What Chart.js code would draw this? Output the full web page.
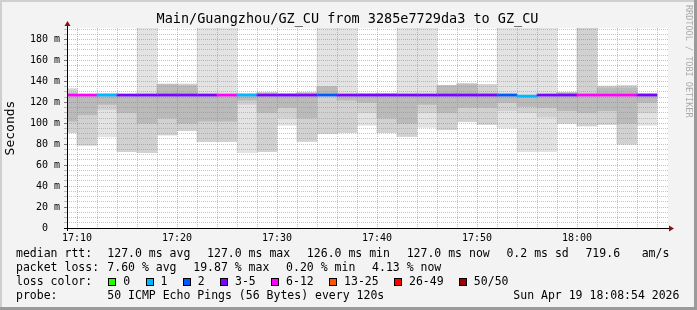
<!DOCTYPE html>
<html>
<head>
<meta charset="utf-8">
<script src="https://cdn.jsdelivr.net/npm/chart.js@4.4.0/dist/chart.umd.min.js"></script>
<style>
  html, body { margin: 0; padding: 0; background: #f3f3f3; }
</style>
</head>
<body>
<canvas id="smokeChart" width="697" height="310"></canvas>
<script>
// one slot = one 120 s probe round, x = minutes after 17:00 (slot centre)
const slotMid = [9, 11, 13, 15, 17, 19, 21, 23, 25, 27, 29, 31, 33, 35, 37, 39, 41, 43, 45, 47, 49, 51, 53, 55, 57, 59, 61, 63, 65, 67];

// median rtt in ms
const medianRtt = [127, 127, 127, 127, 127, 127, 127, 127, 127, 127, 127, 127, 127, 127, 127, 127, 127, 127, 127, 127, 127, 127, 127, 126, 127, 127, 127, 127, 127, 127];

// loss bucket of each slot (colours the median)
const lossBand = ["6-12", "6-12", "1", "3-5", "3-5", "3-5", "3-5", "3-5", "6-12", "1", "3-5", "3-5", "3-5", "2", "3-5", "3-5", "3-5", "3-5", "3-5", "3-5", "3-5", "3-5", "2", "1", "3-5", "3-5", "6-12", "6-12", "6-12", "3-5"];

// smoke: full spread of the pings (ms)
const pingMin = [91, 79, 87, 73, 72, 89, 93, 82.5, 82.5, 72, 73, 98, 82.7, 90, 91, 98, 91, 87.5, 96, 94, 101.5, 99, 95.4, 73, 73, 100, 97.6, 99, 80, 98];
const pingMax = [133, 127.5, 128.5, 127.5, 200, 137.5, 137.5, 200, 200, 128.5, 129.5, 128.5, 129.5, 200, 200, 128.5, 128.5, 200, 200, 136, 138, 137, 200, 200, 200, 129.5, 200, 135.5, 136, 128.5];

// denser part of the smoke
const bodyLo = [91, 79, 113, 73, 72, 89, 93, 82.5, 82.5, 118, 73, 105, 82.7, 90, 91, 110, 91, 87.5, 110, 94, 101.5, 99, 112, 110, 106, 100, 97.6, 99, 80, 110];
const bodyHi = [133, 127, 128, 127, 127, 137.5, 137.5, 127, 127, 128, 129.5, 128, 129.5, 135, 127, 128, 128, 127, 127, 136, 138, 137, 128, 126, 127, 129.5, 200, 135.5, 136, 128];

// core around the median
const coreLo = [102, 108, 118, 110, 100, 105, 100, 102, 102, 122, 110, 115, 105, 127, 122, 120, 105, 100, 118, 110, 115, 115, 120, 116, 115, 112, 110, 112, 100, 120];
const coreHi = [128, 127, 127, 127, 127, 137, 136, 127, 127, 127, 128, 127, 128, 135, 127, 127, 128, 127, 127, 136, 137, 128, 127, 126, 127, 129, 128, 134, 134, 127];

const lossLabels = ["0", "1", "2", "3-5", "6-12", "13-25", "26-49", "50/50"];
const lossColors = ["#26ff00", "#00b8ff", "#0059ff", "#7e00ff", "#ff00ff", "#ff5500", "#ff0000", "#a10000"];

const titleText = "Main/Guangzhou/GZ_CU from 3285e7729da3 to GZ_CU";
const rttItems = ["127.0 ms avg", "127.0 ms max", "126.0 ms min", "127.0 ms now", "0.2 ms sd", "719.6"];
const lossItems = ["7.60 % avg", "19.87 % max", "0.20 % min", "4.13 % now"];
const probeText = "50 ICMP Echo Pings (56 Bytes) every 120s";
const stampText = "Sun Apr 19 18:08:54 2026";

const mono = "'DejaVu Sans Mono', monospace";
const minorGrid = "rgba(140,140,140,0.5)";
const majorGrid = "rgba(225,70,70,0.45)";

function range(lo, hi) {
  return slotMid.map((x, i) => ({ x: x, y: [lo[i], hi[i]] }));
}

function clockLabel(v) {
  const h = 17 + Math.floor(v / 60);
  const m = v % 60;
  return h + ":" + String(m).padStart(2, "0");
}

// rrdtool places legend items one after another with a fixed gap
function legendRow(ctx, items, x, y) {
  items.forEach(t => {
    ctx.fillText(t, x, y);
    x += ctx.measureText(t).width + 16.7;
  });
}

const rrdFrame = {
  id: "rrdFrame",
  beforeDraw(chart) {
    const { ctx, chartArea: a } = chart;
    ctx.save();
    ctx.fillStyle = "#f3f3f3";
    ctx.fillRect(0, 0, chart.width, chart.height);
    ctx.fillStyle = "#ffffff";
    ctx.fillRect(a.left, a.top, a.right - a.left, a.bottom - a.top);
    ctx.restore();
  },
  afterDraw(chart) {
    const { ctx, chartArea: a } = chart;
    ctx.save();

    // axes + arrows
    ctx.strokeStyle = "#000";
    ctx.lineWidth = 1;
    ctx.beginPath();
    ctx.moveTo(a.left - 3, a.bottom + 0.5);
    ctx.lineTo(a.right + 2, a.bottom + 0.5);
    ctx.moveTo(a.left + 0.5, a.bottom + 3);
    ctx.lineTo(a.left + 0.5, a.top - 3);
    ctx.stroke();
    ctx.fillStyle = "#8b1010";
    ctx.beginPath();
    ctx.moveTo(a.left + 0.5, a.top - 7);
    ctx.lineTo(a.left - 2.5, a.top - 2);
    ctx.lineTo(a.left + 3.5, a.top - 2);
    ctx.fill();
    ctx.beginPath();
    ctx.moveTo(a.right + 6, a.bottom + 0.5);
    ctx.lineTo(a.right + 1, a.bottom - 2.5);
    ctx.lineTo(a.right + 1, a.bottom + 3.5);
    ctx.fill();

    // title
    ctx.fillStyle = "#000";
    ctx.font = "13.5px " + mono;
    ctx.textAlign = "center";
    ctx.textBaseline = "middle";
    ctx.fillText(titleText, 347.5, 19.5);

    // legend block
    ctx.font = "11.5px " + mono;
    ctx.textAlign = "left";
    ctx.fillText("median rtt:", 16, 254.5);
    legendRow(ctx, rttItems, 107.3, 254.5);
    ctx.fillText("am/s", 641.7, 254.5);
    ctx.fillText("packet loss:", 16, 268.5);
    legendRow(ctx, lossItems, 107.3, 268.5);
    ctx.fillText("loss color:", 16, 282.5);
    // colour swatch, then its label, then a gap
    let lx = 108.3;
    lossLabels.forEach((lab, i) => {
      ctx.fillStyle = lossColors[i];
      ctx.fillRect(Math.round(lx) + 0.5, 278.5, 7, 7);
      ctx.strokeStyle = "#000";
      ctx.strokeRect(Math.round(lx) + 0.5, 278.5, 7, 7);
      ctx.fillStyle = "#000";
      ctx.fillText(lab, lx + 15, 282.5);
      lx += 15 + ctx.measureText(lab).width + 15.3;
    });
    ctx.fillText("probe:", 16, 296.5);
    ctx.fillText(probeText, 107.3, 296.5);
    ctx.fillText(stampText, 513.3, 296.5);

    // watermark
    ctx.save();
    ctx.translate(688, 5);
    ctx.rotate(Math.PI / 2);
    ctx.font = "8.5px " + mono;
    ctx.fillStyle = "#aaaaaa";
    ctx.textBaseline = "middle";
    ctx.fillText("RRDTOOL / TOBI OETIKER", 0, 0);
    ctx.restore();

    // frame
    ctx.fillStyle = "#cfcfcf";
    ctx.fillRect(0, 0, chart.width, 2);
    ctx.fillRect(0, 0, 2, chart.height);
    ctx.fillStyle = "#9a9a9a";
    ctx.fillRect(0, chart.height - 3, chart.width, 3);
    ctx.fillRect(chart.width - 3, 0, 3, chart.height);
    ctx.restore();
  }
};

const barBase = { grouped: false, barPercentage: 1, categoryPercentage: 1, borderWidth: 0 };

new Chart("smokeChart", {
  type: "bar",
  data: {
    datasets: [
      Object.assign({ label: "median", data: range(medianRtt.map(v => v - 1), medianRtt.map(v => v + 1)),
        backgroundColor: lossBand.map(b => lossColors[lossLabels.indexOf(b)]) }, barBase),
      Object.assign({ label: "core", data: range(coreLo, coreHi), backgroundColor: "#bababa" }, barBase),
      Object.assign({ label: "body", data: range(bodyLo, bodyHi), backgroundColor: "#d1d1d1" }, barBase),
      Object.assign({ label: "spread", data: range(pingMin, pingMax), backgroundColor: "#e3e3e3" }, barBase)
    ]
  },
  options: {
    responsive: false,
    animation: false,
    layout: { padding: { left: 0, top: 28, right: 29, bottom: 60 } },
    plugins: { legend: { display: false }, tooltip: { enabled: false } },
    scales: {
      x: {
        type: "linear",
        offset: false,
        min: 9,
        max: 69.1,
        afterFit: s => { s.height = 22; },
        ticks: {
          stepSize: 2, autoSkip: false, maxRotation: 0, includeBounds: false, padding: 2,
          color: "#000", font: { family: mono, size: 10 },
          callback: v => (v % 10 === 0 ? clockLabel(v) : "")
        },
        grid: {
          offset: false, z: 1, lineWidth: 1, tickLength: 2, tickColor: "rgba(0,0,0,0)",
          color: c => (c.tick && c.tick.value % 10 === 0 ? majorGrid : minorGrid)
        },
        border: { display: false, dash: [1, 1] }
      },
      y: {
        min: 0,
        max: 191,
        afterFit: s => { s.width = 67; },
        ticks: {
          stepSize: 5, autoSkip: false, includeBounds: false, padding: 4,
          color: "#000", font: { family: mono, size: 10 },
          callback: v => (v % 20 === 0 ? (v === 0 ? "0  " : v + " m") : "")
        },
        grid: {
          z: 1, lineWidth: 1, tickLength: 3,
          tickColor: c => (c.tick && c.tick.value % 20 === 0 ? "#777" : "#bbb"),
          color: c => (c.tick && c.tick.value % 20 === 0 ? majorGrid : minorGrid)
        },
        border: { display: false, dash: [1, 1] },
        title: { display: true, text: "Seconds", color: "#000", font: { family: mono, size: 13 }, padding: { top: 3, bottom: 0 } }
      }
    }
  },
  plugins: [rrdFrame]
});
</script>
</body>
</html>
